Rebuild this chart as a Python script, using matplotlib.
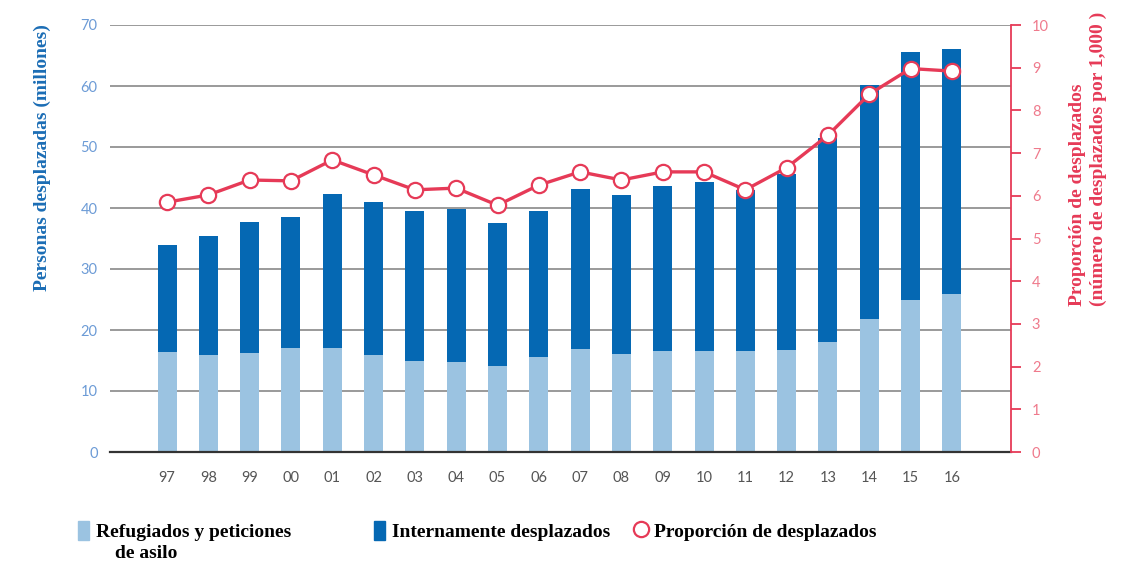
import numpy as np
import matplotlib
matplotlib.use("Agg")
import matplotlib.pyplot as plt
from matplotlib.patches import Patch
from matplotlib.lines import Line2D

# datos
years = ["97", "98", "99", "00", "01", "02", "03", "04", "05", "06",
         "07", "08", "09", "10", "11", "12", "13", "14", "15", "16"]
refugiados = [16.4, 15.9, 16.3, 17.1, 17.1, 15.9, 14.9, 14.7, 14.1, 15.5,
              16.9, 16.1, 16.5, 16.5, 16.5, 16.7, 18.1, 21.8, 25.0, 25.9]
total = [33.9, 35.4, 37.7, 38.5, 42.3, 41.0, 39.5, 39.8, 37.5, 39.5,
         43.1, 42.1, 43.6, 44.3, 43.0, 45.5, 51.4, 60.2, 65.6, 66.0]
internos = [t - r for t, r in zip(total, refugiados)]
proporcion = [5.85, 6.02, 6.37, 6.35, 6.84, 6.49, 6.14, 6.18, 5.78, 6.25,
              6.56, 6.37, 6.56, 6.56, 6.14, 6.66, 7.42, 8.38, 8.98, 8.92]

LIGHT = "#9bc3e1"
DARK = "#0568b3"
RED = "#e63a57"
serif = "Liberation Serif"

W, H = 1132, 562
fig = plt.figure(figsize=(W / 100, H / 100), dpi=100)
ax = fig.add_axes([110 / W, 1 - 452 / H, 901 / W, 427 / H])

x = np.arange(len(years))
ax.bar(x, refugiados, width=0.46, color=LIGHT, zorder=2)
ax.bar(x, internos, width=0.46, bottom=refugiados, color=DARK, zorder=2)
ax.set_xlim(-1.38, 20.43)
ax.set_ylim(0, 70)
ax.set_yticks(range(0, 71, 10))
ax.set_xticks(x)
ax.set_xticklabels(years)
ax.tick_params(axis="y", length=0, pad=9, labelsize=10.5, labelcolor="#6c9bd6")
ax.tick_params(axis="x", length=0, pad=14, labelsize=10.5, labelcolor="#555555")
for lab in ax.get_xticklabels() + ax.get_yticklabels():
    lab.set_family("Lato")
ax.grid(axis="y", color="#9a9a9a", linewidth=1.4, zorder=0)
for s in ["top", "left", "right"]:
    ax.spines[s].set_visible(False)
ax.spines["bottom"].set_color("#333333")
ax.spines["bottom"].set_linewidth(1.6)
ax.spines["bottom"].set_zorder(3)
ax.set_ylabel("Personas desplazadas (millones)", family=serif, fontweight="bold",
              fontsize=14, color="#1b6db5")
ax.yaxis.set_label_coords(-0.065, 0.69)

ax2 = ax.twinx()
ax2.plot(x, proporcion, color=RED, linewidth=2.4, marker="o", markersize=11,
         markerfacecolor="white", markeredgecolor=RED, markeredgewidth=1.6, zorder=4)
ax2.set_ylim(0, 10)
ax2.set_yticks(range(0, 11))
for s in ["top", "left", "bottom"]:
    ax2.spines[s].set_visible(False)
ax2.spines["right"].set_color(RED)
ax2.spines["right"].set_linewidth(1.3)
ax2.tick_params(axis="y", length=7, width=1.3, color=RED, pad=8,
                labelsize=10.5, labelcolor="#ef7a8c")
for lab in ax2.get_yticklabels():
    lab.set_family("Lato")
ax2.set_ylabel("Proporción de desplazados\n(número de desplazados por 1,000 )",
               family=serif, fontweight="bold", fontsize=14, color=RED,
               linespacing=1.3, multialignment="left")
ax2.yaxis.set_label_coords(1.064, 0.686)

# leyenda
leg_font = {"family": serif, "weight": "bold", "size": 14}
items = [
    (Patch(color=LIGHT), "Refugiados y peticiones", 78),
    (Patch(color=DARK), "Internamente desplazados", 374),
    (Line2D([], [], linestyle="none", marker="o", markersize=11, markerfacecolor="white",
            markeredgecolor=RED, markeredgewidth=1.6), "Proporción de desplazados", 636),
]
for handle, label, px in items:
    fig.legend([handle], [label], loc="center left", bbox_to_anchor=(px / W, 1 - 531 / H),
               frameon=False, prop=leg_font, handlelength=0.55, handleheight=1.1,
               handletextpad=0.4, borderpad=0, borderaxespad=0)
fig.text(115 / W, 1 - 553 / H, "de asilo", ha="left", va="center", **leg_font)

fig.savefig("out.png", dpi=100)
